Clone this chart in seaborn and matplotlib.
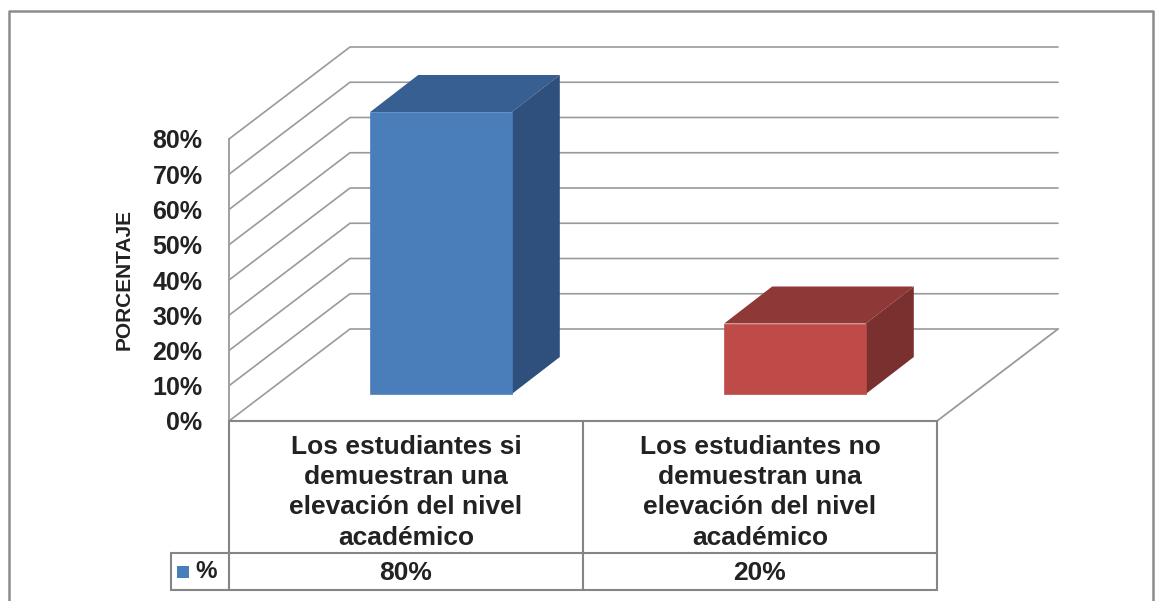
import matplotlib
matplotlib.use('Agg')
import matplotlib.pyplot as plt
import seaborn as sns
from matplotlib.patches import Polygon, Rectangle

# datos del grafico
categorias = ['Los estudiantes si\ndemuestran una\nelevación del nivel\nacadémico',
              'Los estudiantes no\ndemuestran una\nelevación del nivel\nacadémico']
valores = [80, 20]
etiquetas_valor = ['80%', '20%']
ticks_y = [0, 10, 20, 30, 40, 50, 60, 70, 80]
colores = ['#4A7EBB', '#BE4B48']
colores_arriba = ['#375F92', '#8E3937']
colores_lado = ['#2F4F7C', '#7A302E']

GRIS = '#9a9a9a'
GRIS_TABLA = '#858585'
W, H = 1156, 601

sns.set_style('white')
plt.rcParams['font.family'] = ['Liberation Sans', 'DejaVu Sans']

fig = plt.figure(figsize=(W / 100, H / 100), dpi=100)
ax = fig.add_axes([229 / W, 1 - 421 / H, (937 - 229) / W, (421 - 139) / H])

sns.barplot(x=categorias, y=valores, hue=categorias, palette=colores, width=0.4,
            legend=False, ax=ax, saturation=1, zorder=3)
ax.set_xlim(-0.5, 1.5)
ax.set_ylim(0, 80)

# pixeles a unidades de datos
px_x = 2 / (937 - 229)
px_y = 80 / (421 - 139)

# profundidad de las paredes, de la barra y desplazamiento de la barra en el piso
fondo_x, fondo_y = 121 * px_x, 92 * px_y
mover_x, mover_y = 35 * px_x, 27 * px_y
prof_x, prof_y = 48 * px_x, 37 * px_y

# paredes y lineas de la cuadricula
x0, x1 = ax.get_xlim()
for t in ticks_y:
    ax.plot([x0, x0 + fondo_x, x1 + fondo_x], [t, t + fondo_y, t + fondo_y],
            color=GRIS, lw=1.2, clip_on=False, zorder=1)
ax.plot([x0, x0], [0, 80], color=GRIS, lw=1.3, clip_on=False, zorder=1)
ax.plot([x1, x1 + fondo_x], [0, fondo_y], color=GRIS, lw=1.3, clip_on=False, zorder=1)

# caras de arriba y del lado de cada barra
for i, p in enumerate(ax.patches):
    p.set_x(p.get_x() + mover_x)
    p.set_y(p.get_y() + mover_y)
    p.set_clip_on(False)
    p.set_edgecolor(colores[i])
    p.set_linewidth(0.5)
    a, b = p.get_x(), p.get_x() + p.get_width()
    base, tope = p.get_y(), p.get_y() + p.get_height()
    ax.add_patch(Polygon([(a, tope), (a + prof_x, tope + prof_y),
                          (b + prof_x, tope + prof_y), (b, tope)],
                         fc=colores_arriba[i], ec='none', clip_on=False, zorder=2.9))
    ax.add_patch(Polygon([(b, base), (b + prof_x, base + prof_y),
                          (b + prof_x, tope + prof_y), (b, tope)],
                         fc=colores_lado[i], ec='none', clip_on=False, zorder=2.9))

ax.set_yticks(ticks_y)
ax.set_yticklabels([f'{t}%' for t in ticks_y], fontsize=18, fontweight='bold', color='#222222')
ax.tick_params(axis='y', length=0, pad=19)
ax.tick_params(axis='x', length=0, pad=10)
plt.setp(ax.get_xticklabels(), fontsize=19, fontweight='bold', color='#222222',
         linespacing=1.33, ha='center')
sns.despine(ax=ax, left=True, top=True, right=True, bottom=True)

# tabla de datos debajo del eje
fila = -(553 - 421) * px_y
abajo = -(590 - 421) * px_y
izq = x0 - 58 * px_x
centro_fila = (fila + abajo) / 2
for xs, ys in [([x0, x1], [0, 0]), ([izq, x1], [fila, fila]), ([izq, x1], [abajo, abajo]),
               ([izq, izq], [fila, abajo]), ([x0, x0], [0, abajo]),
               ([0.5, 0.5], [0, abajo]), ([x1, x1], [0, abajo])]:
    ax.plot(xs, ys, color=GRIS_TABLA, lw=1.5, clip_on=False, zorder=2)

for i, e in enumerate(etiquetas_valor):
    ax.text(i, centro_fila - 1.5 * px_y, e, ha='center', va='center', fontsize=19,
            fontweight='bold', color='#222222', clip_on=False)
ax.add_patch(Rectangle((izq + 6 * px_x, centro_fila - 6 * px_y), 12 * px_x, 12 * px_y,
                       fc=colores[0], ec='none', clip_on=False))
ax.text(izq + 35 * px_x, centro_fila, '%', ha='center', va='center', fontsize=17.5,
        fontweight='bold', color='#222222', clip_on=False)

# titulo del eje y marco exterior
fig.text(124 / W, 1 - 280 / H, 'PORCENTAJE', rotation=90, ha='center', va='center',
         fontsize=15, fontweight='bold', color='#222222')
fig.add_artist(plt.Line2D([9 / W, 9 / W, 1153 / W, 1153 / W],
                          [0, 1 - 11 / H, 1 - 11 / H, 0], color='#8c8c8c', lw=1.8))

fig.savefig('out.png', dpi=100)
